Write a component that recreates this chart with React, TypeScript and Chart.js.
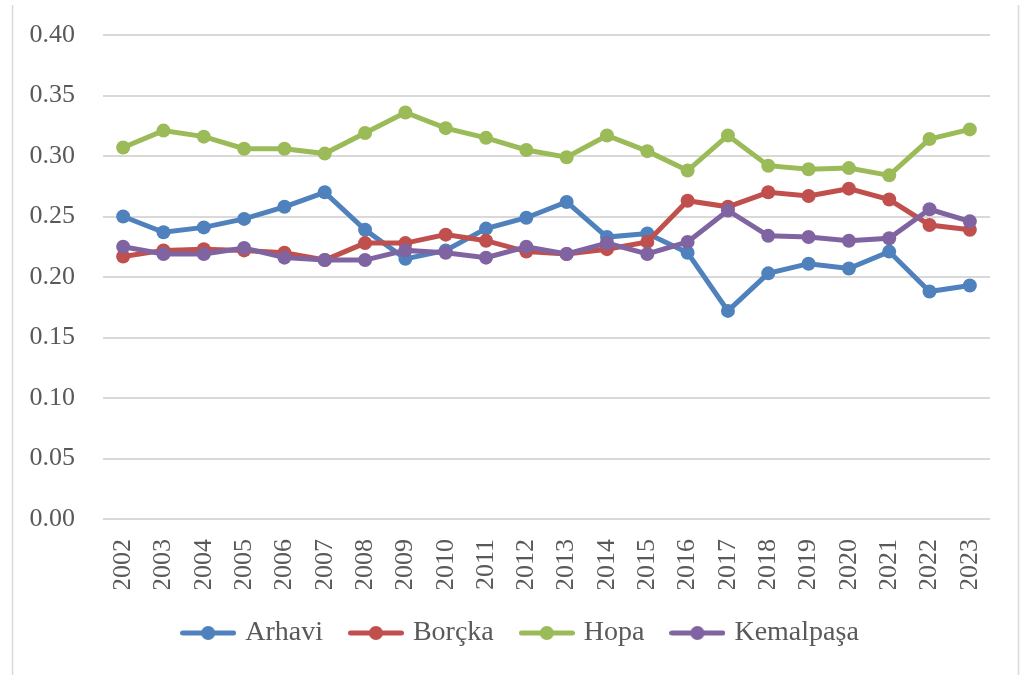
import React, { useEffect, useRef } from "react";
import { Chart, registerables } from "chart.js";

Chart.register(...registerables);

const years = ["2002","2003","2004","2005","2006","2007","2008","2009","2010","2011","2012","2013","2014","2015","2016","2017","2018","2019","2020","2021","2022","2023"];
const arhavi = [0.250,0.237,0.241,0.248,0.258,0.270,0.239,0.215,0.222,0.240,0.249,0.262,0.233,0.236,0.220,0.172,0.203,0.211,0.207,0.221,0.188,0.193];
const borcka = [0.217,0.222,0.223,0.222,0.220,0.214,0.228,0.228,0.235,0.230,0.221,0.219,0.223,0.229,0.263,0.258,0.270,0.267,0.273,0.264,0.243,0.239];
const hopa = [0.307,0.321,0.316,0.306,0.306,0.302,0.319,0.336,0.323,0.315,0.305,0.299,0.317,0.304,0.288,0.317,0.292,0.289,0.290,0.284,0.314,0.322];
const kemalpasa = [0.225,0.219,0.219,0.224,0.216,0.214,0.214,0.222,0.220,0.216,0.225,0.219,0.228,0.219,0.229,0.255,0.234,0.233,0.230,0.232,0.256,0.246];
const seriesNames = ["Arhavi", "Borçka", "Hopa", "Kemalpaşa"];
const seriesColors = ["#4F81BD", "#C0504D", "#9BBB59", "#8064A2"];

const FONT = "'Liberation Serif', 'Times New Roman', serif";
const TEXT = "#595959";

function legendImage(color: string) {
  const c = document.createElement("canvas");
  c.width = 56;
  c.height = 16;
  const g = c.getContext("2d")!;
  g.strokeStyle = color;
  g.lineWidth = 5;
  g.lineCap = "round";
  g.beginPath();
  g.moveTo(2.5, 8);
  g.lineTo(53.5, 8);
  g.stroke();
  g.fillStyle = color;
  g.beginPath();
  g.arc(28, 8, 7, 0, Math.PI * 2);
  g.fill();
  return c;
}

const framePlugin = {
  id: "frame",
  afterLayout(chart: any) {
    if (chart.legend) {
      chart.legend.left += 21;
      chart.legend.right += 21;
    }
  },
  beforeDraw(chart: any) {
    const ctx = chart.ctx;
    ctx.save();
    ctx.strokeStyle = "#d9d9d9";
    ctx.lineWidth = 1.5;
    ctx.beginPath();
    ctx.moveTo(12.5, 5);
    ctx.lineTo(12.5, 675);
    ctx.moveTo(1018.5, 5);
    ctx.lineTo(1018.5, 675);
    ctx.stroke();
    ctx.restore();
  },
};

export default function App() {
  const ref = useRef<HTMLCanvasElement>(null);
  useEffect(() => {
    document.body.style.margin = "0";
    const values = [arhavi, borcka, hopa, kemalpasa];
    const images = seriesColors.map(legendImage);
    const chart = new Chart(ref.current!, {
      type: "line",
      data: {
        labels: years,
        datasets: seriesNames.map((name, i) => ({
          label: name,
          data: values[i],
          borderColor: seriesColors[i],
          backgroundColor: seriesColors[i],
          borderWidth: 5,
          pointRadius: 7,
          pointBorderWidth: 0,
          pointBackgroundColor: seriesColors[i],
          pointStyle: "circle",
          tension: 0,
          order: 3 - i,
        })) as any,
      },
      options: {
        animation: false,
        responsive: true,
        maintainAspectRatio: false,
        layout: { padding: { left: 12, right: 45, top: 35, bottom: 18 } },
        plugins: {
          tooltip: { enabled: false },
          legend: {
            position: "bottom",
            labels: {
              usePointStyle: true,
              pointStyleWidth: 46,
              padding: 30,
              color: TEXT,
              font: { family: FONT, size: 28 },
              sort: (a: any, b: any) => a.datasetIndex - b.datasetIndex,
              generateLabels: (chart: any) =>
                chart.data.datasets.map((ds: any, i: number) => ({
                  text: ds.label,
                  fillStyle: seriesColors[i],
                  strokeStyle: seriesColors[i],
                  lineWidth: 0,
                  pointStyle: images[i],
                  hidden: false,
                  datasetIndex: i,
                  fontColor: TEXT,
                })),
            },
          },
        },
        scales: {
          x: {
            offset: true,
            grid: { display: false, drawTicks: false },
            border: { display: false },
            ticks: {
              autoSkip: false,
              maxRotation: 90,
              minRotation: 90,
              padding: 20,
              color: TEXT,
              font: { family: FONT, size: 26 },
            },
            afterFit: (s: any) => {
              s.height = 70;
            },
          },
          y: {
            min: 0,
            max: 0.4,
            grid: { color: "#d9d9d9", lineWidth: 2, drawTicks: false },
            border: { display: false },
            ticks: {
              stepSize: 0.05,
              padding: 28,
              color: TEXT,
              font: { family: FONT, size: 26 },
              callback: (v: any) => Number(v).toFixed(2),
            },
            afterFit: (s: any) => {
              s.width = 91;
              s.paddingTop = 0;
              s.paddingBottom = 0;
            },
          },
        },
      },
      plugins: [framePlugin],
    });
    return () => chart.destroy();
  }, []);
  return (
    <div style={{ width: 1035, height: 675, position: "relative", overflow: "hidden" }}>
      <canvas ref={ref} />
    </div>
  );
}
